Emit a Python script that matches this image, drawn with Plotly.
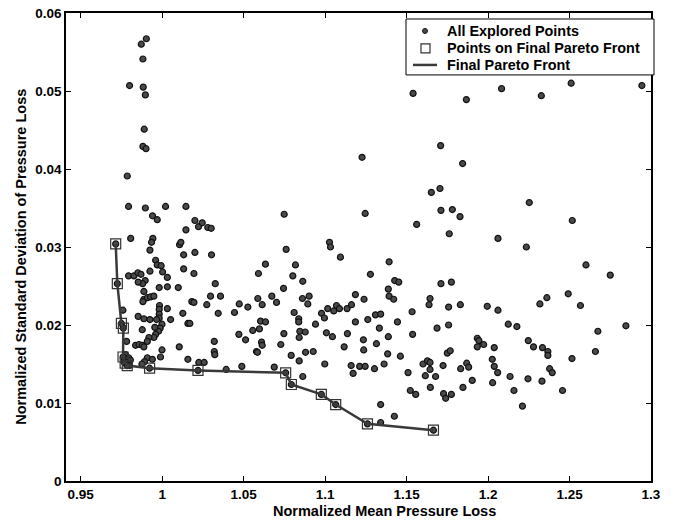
import plotly.graph_objects as go

# Final Pareto front (normalized mean, normalized std)
pareto_x = [0.9715, 0.9725, 0.9750, 0.9762, 0.9760, 0.9773, 0.9786, 0.9923, 1.0220,
            1.0758, 1.0793, 1.0977, 1.1065, 1.1260, 1.1665]
pareto_y = [0.0304, 0.0253, 0.0202, 0.0196, 0.0159, 0.0151, 0.0148, 0.01446, 0.01417,
            0.01387, 0.01237, 0.0111, 0.0098, 0.00733, 0.00651]

# All explored points
explored_x = [
    0.9903, 0.9872, 0.9882, 0.9800, 0.9884, 0.9897, 0.9890, 0.9882, 0.9901,
    0.9786, 0.9794, 0.9807, 0.9897, 0.9941, 0.9970, 1.0021, 1.0146, 1.0146, 1.0201, 1.0223, 1.0246, 1.0280, 1.0301,
    0.9943, 0.9935, 0.9925, 1.0107, 1.0115, 1.0132, 1.0201, 1.0303,
    0.9960, 0.9970, 0.9994, 1.0132,
    0.9925, 1.0003, 1.0195,
    0.9794, 0.9827, 0.9851, 0.9870,
    0.9896, 0.9880, 0.9853, 1.0032, 0.9982, 1.0099, 1.0032,
    0.9888, 0.9888, 0.9909, 0.9929, 0.9949, 0.9882,
    0.9984, 0.9982, 0.9982, 0.9982, 1.0032, 1.0182, 1.0195,
    0.9853, 0.9888, 0.9925, 0.9966, 1.0052, 1.0127,
    0.9999, 0.9988, 0.9978, 0.9960, 0.9949, 0.9919, 0.9909, 0.9878, 0.9955, 1.0158, 1.0170,
    0.9837, 0.9858, 0.9878, 0.9888, 0.9999, 1.0105,
    0.9909, 0.9940, 0.9990, 1.0158, 0.9892, 0.9876,
    0.9759, 0.9782, 0.9775, 0.9795, 0.9805, 0.9790, 0.9800, 0.9765,
    1.0634, 1.0749, 1.0761, 1.0818, 1.1027, 1.1033, 1.1094,
    1.0326, 1.0297, 1.0358, 1.0274, 1.0344, 1.0320, 1.0320, 1.0323,
    1.0225, 1.0258, 1.0393, 1.0489, 1.0688,
    1.0591, 1.0802, 1.0863, 1.0745, 1.0587, 1.0673, 1.0614, 1.0702, 1.0473, 1.0526, 1.0444,
    1.0861, 1.0902, 1.0894, 1.0810, 1.0838, 1.0838, 1.0978, 1.0996, 1.1016, 1.1053, 1.1070, 1.1088,
    1.0604, 1.0634, 1.0941, 1.0597, 1.0556, 1.0471, 1.0512, 1.0610, 1.0614, 1.0747, 1.0845, 1.0878,
    1.0841, 1.1008, 1.1045, 1.0728, 1.0579, 1.0585, 1.0792, 1.0841, 1.0880, 1.0927, 1.0998, 1.0863,
    1.1227, 1.1844, 1.1652, 1.1705, 1.1711, 1.1781, 1.1828, 1.1246, 1.1562, 1.1762, 1.2061,
    1.1393, 1.1278, 1.1427, 1.1452, 1.1388, 1.1393, 1.1421, 1.1186, 1.1239, 1.1135, 1.1162,
    1.1711, 1.1775, 1.1644, 1.1638, 1.1758, 1.1830, 1.1995, 1.2061,
    1.1309, 1.1341, 1.1534, 1.1186, 1.1262, 1.1444, 1.1333, 1.1758, 1.1687,
    1.1137, 1.1388, 1.1537, 1.1117, 1.1235, 1.1237, 1.1315,
    1.1934, 1.1944, 1.1934, 1.1973, 1.2038, 1.1750, 1.1768, 1.1384, 1.1462,
    1.1160, 1.1172, 1.1212, 1.1246, 1.1303, 1.1362, 1.1509, 1.1601, 1.1628, 1.1644, 1.1644, 1.1615,
    1.1678, 1.1724, 1.1646, 1.1523, 1.1556, 1.1727, 1.1740, 1.1775, 1.1832, 1.1869, 1.1881, 1.1903,
    1.1846, 1.2026, 1.2038, 1.2059, 1.2028, 1.1341, 1.1425, 1.1341,
    1.2253, 1.2517, 1.2235, 1.2601, 1.2750, 1.2492, 1.2361, 1.2318, 1.2567, 1.2124, 1.2177, 1.2846,
    1.2674, 1.2247, 1.2279, 1.2334, 1.2367, 1.2367, 1.2659, 1.2515, 1.2378, 1.2394, 1.2135, 1.2245,
    1.2331, 1.2159, 1.2457, 1.2211,
    1.1540, 1.1867, 1.2083, 1.2327, 1.2510, 1.2944, 1.1709,
]
explored_y = [
    0.0567, 0.0560, 0.0541, 0.0507, 0.0505, 0.0495, 0.0451, 0.0429, 0.0426,
    0.0391, 0.0352, 0.0311, 0.0350, 0.0340, 0.0335, 0.0352, 0.0352, 0.0322, 0.0334, 0.0326, 0.0331, 0.0325, 0.0324,
    0.0311, 0.0306, 0.0296, 0.0303, 0.0306, 0.0290, 0.0293, 0.0290,
    0.0283, 0.0277, 0.0276, 0.0272,
    0.0269, 0.0268, 0.0266,
    0.0263, 0.0263, 0.0267, 0.0265,
    0.0257, 0.0253, 0.0255, 0.0261, 0.0248, 0.0248, 0.0249,
    0.0243, 0.0233, 0.0235, 0.0236, 0.0237, 0.0230,
    0.0225, 0.0220, 0.0214, 0.0209, 0.0221, 0.0230, 0.0229,
    0.0211, 0.0208, 0.0207, 0.0207, 0.0207, 0.0215,
    0.0201, 0.0196, 0.0192, 0.0188, 0.0184, 0.0184, 0.0179, 0.0194, 0.0197, 0.0202, 0.0202,
    0.0174, 0.0175, 0.0174, 0.0172, 0.0168, 0.0172,
    0.0158, 0.0156, 0.0159, 0.0156, 0.0153, 0.0150,
    0.0219, 0.0179, 0.0162, 0.0158, 0.0155, 0.0150, 0.0148, 0.0153,
    0.0278, 0.0342, 0.0297, 0.0277, 0.0306, 0.0300, 0.0287,
    0.0253, 0.0237, 0.0237, 0.0226, 0.0215, 0.0179, 0.0166, 0.0162,
    0.0152, 0.0152, 0.0143, 0.0147, 0.0146,
    0.0266, 0.0263, 0.0256, 0.0247, 0.0234, 0.0237, 0.0226, 0.0229, 0.0227, 0.0223, 0.0216,
    0.0234, 0.0237, 0.0227, 0.0216, 0.0208, 0.0204, 0.0215, 0.0209, 0.0221, 0.0218, 0.0225, 0.0221,
    0.0205, 0.0204, 0.0201, 0.0195, 0.0193, 0.0188, 0.0181, 0.0178, 0.0174, 0.0189, 0.0192, 0.0191,
    0.0184, 0.0190, 0.0185, 0.0175, 0.0166, 0.0165, 0.0161, 0.0154, 0.0165, 0.0166, 0.0150, 0.0134,
    0.0415, 0.0407, 0.0370, 0.0375, 0.0347, 0.0348, 0.0339, 0.0343, 0.0329, 0.0317, 0.0311,
    0.0281, 0.0265, 0.0257, 0.0255, 0.0246, 0.0237, 0.0233, 0.0239, 0.0233, 0.0221, 0.0226,
    0.0253, 0.0255, 0.0234, 0.0226, 0.0223, 0.0226, 0.0224, 0.0219,
    0.0213, 0.0214, 0.0217, 0.0204, 0.0207, 0.0204, 0.0196, 0.0200, 0.0196,
    0.0189, 0.0185, 0.0188, 0.0172, 0.0181, 0.0168, 0.0176,
    0.0183, 0.0180, 0.0172, 0.0175, 0.0171, 0.0164, 0.0167, 0.0163, 0.0160,
    0.0148, 0.0138, 0.0147, 0.0147, 0.0144, 0.0150, 0.0139, 0.0150, 0.0154, 0.0152, 0.0143, 0.0135,
    0.0134, 0.0148, 0.0120, 0.0116, 0.0111, 0.0112, 0.0106, 0.0111, 0.0144, 0.0151, 0.0146, 0.0129,
    0.0120, 0.0156, 0.0147, 0.0139, 0.0126, 0.0098, 0.0083, 0.0075,
    0.0357, 0.0334, 0.0300, 0.0277, 0.0264, 0.0240, 0.0235, 0.0227, 0.0225, 0.0201, 0.0198, 0.0199,
    0.0192, 0.0180, 0.0172, 0.0171, 0.0166, 0.0161, 0.0166, 0.0157, 0.0144, 0.0139, 0.0134, 0.0131,
    0.0128, 0.0116, 0.0116, 0.0096,
    0.0497, 0.0489, 0.0503, 0.0494, 0.0510, 0.0507, 0.0430,
]

x_ticks = [0.95, 1.0, 1.05, 1.1, 1.15, 1.2, 1.25, 1.3]
x_tick_labels = ["0.95", "1", "1.05", "1.1", "1.15", "1.2", "1.25", "1.3"]
y_ticks = [0, 0.01, 0.02, 0.03, 0.04, 0.05, 0.06]
y_tick_labels = ["0", "0.01", "0.02", "0.03", "0.04", "0.05", "0.06"]
legend_labels = ["All Explored Points", "Points on Final Pareto Front", "Final Pareto Front"]
x_title = "Normalized Mean Pressure Loss"
y_title = "Normalized Standard Deviation of Pressure Loss"

FONT = "Liberation Sans, Arial, sans-serif"
DOT_COLOR = "#4a4a4a"
EDGE_COLOR = "#111111"
FRONT_COLOR = "#3a3a3a"

fig = go.Figure()
fig.add_trace(go.Scatter(
    x=explored_x + pareto_x, y=explored_y + pareto_y, mode="markers",
    name=legend_labels[0], showlegend=False,
    marker=dict(symbol="circle", size=6, color=DOT_COLOR,
                line=dict(color=EDGE_COLOR, width=1.2)),
))
fig.add_trace(go.Scatter(
    x=pareto_x, y=pareto_y, mode="lines",
    name=legend_labels[2], showlegend=False,
    line=dict(color=FRONT_COLOR, width=2.5),
))
fig.add_trace(go.Scatter(
    x=pareto_x, y=pareto_y, mode="markers",
    name=legend_labels[1], showlegend=False,
    marker=dict(symbol="square-open", size=10, color="#333333",
                line=dict(color="#333333", width=1.2)),
))

# ---- layout: the page body adds an 8px offset, so the figure is sized to fit ----
OFF = 8
W, H = 675 - OFF, 523 - OFF
# plot area on screen: x 66..651, y 13..481.5
ML, MR, MT, MB = 66 - OFF, 675 - 651, 13 - OFF, 523 - 481.5
pw, ph = W - ML - MR, H - MT - MB


def px(xs):
    return (xs - OFF - ML) / pw


def py(ys):
    return 1 - (ys - OFF - MT) / ph


shapes = [
    dict(type="rect", xref="paper", yref="paper", x0=px(406), x1=px(654), y0=py(75), y1=py(19),
         line=dict(color="black", width=1), fillcolor="white", layer="above"),
    dict(type="circle", xref="paper", yref="paper", x0=px(422.5), x1=px(427.5), y0=py(33.5), y1=py(28.5),
         line=dict(color=EDGE_COLOR, width=1), fillcolor=DOT_COLOR, layer="above"),
    dict(type="rect", xref="paper", yref="paper", x0=px(421), x1=px(430), y0=py(53), y1=py(44),
         line=dict(color="#333333", width=1.2), fillcolor="rgba(0,0,0,0)", layer="above"),
    dict(type="line", xref="paper", yref="paper", x0=px(413), x1=px(437), y0=py(65), y1=py(65),
         line=dict(color=FRONT_COLOR, width=2.5), layer="above"),
]
annotations = []
for label, ypix in zip(legend_labels, [31, 48, 65]):
    annotations.append(dict(
        text="<b>" + label + "</b>", xref="paper", yref="paper", x=px(445), y=py(ypix),
        xanchor="left", yanchor="middle", showarrow=False,
        font=dict(family=FONT, size=14.4, color="black"),
    ))
annotations.append(dict(
    text="<b>" + x_title + "</b>", xref="paper", yref="paper", x=px(384), y=py(512),
    xanchor="center", yanchor="middle", showarrow=False,
    font=dict(family=FONT, size=14.5, color="black"),
))
annotations.append(dict(
    text="<b>" + y_title + "</b>", xref="paper", yref="paper", x=px(21), y=py(257),
    xanchor="center", yanchor="middle", showarrow=False, textangle=-90,
    font=dict(family=FONT, size=14.5, color="black"),
))

axis_common = dict(
    showgrid=False, zeroline=False, showline=True, linecolor="black", linewidth=1.5,
    mirror="ticks", ticks="inside", ticklen=5, tickwidth=1, tickcolor="black",
    automargin=False, ticklabeloverflow="allow",
    tickfont=dict(family=FONT, size=13.5, color="black", weight="bold"),
)

fig.update_layout(
    width=W, height=H,
    margin=dict(l=ML, r=MR, t=MT, b=MB, autoexpand=False),
    paper_bgcolor="white", plot_bgcolor="white",
    font=dict(family=FONT, color="black"),
    showlegend=False,
    shapes=shapes,
    annotations=annotations,
    xaxis=dict(range=[0.941, 1.3], tickvals=x_ticks, ticktext=x_tick_labels, **axis_common),
    yaxis=dict(range=[0, 0.06], tickvals=y_ticks, ticktext=y_tick_labels, **axis_common),
)

fig.write_html("out.html")
